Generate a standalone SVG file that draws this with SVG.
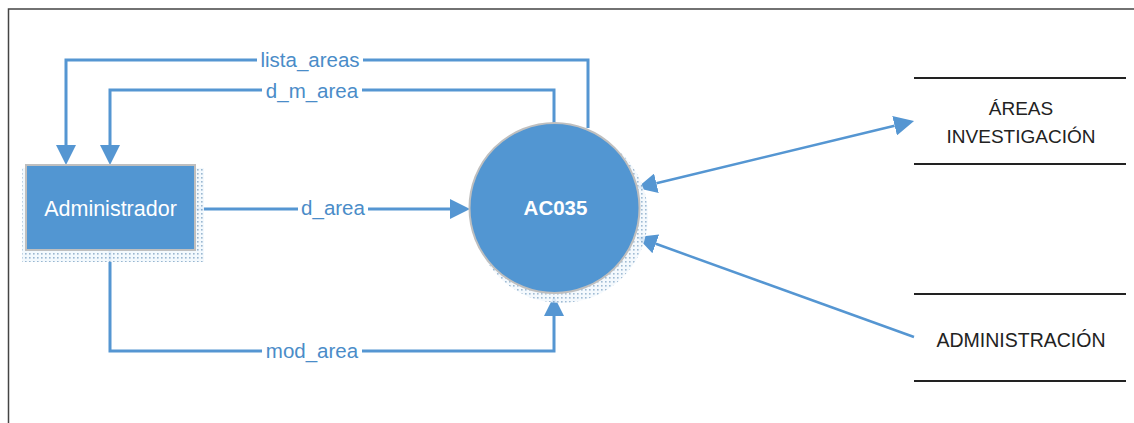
<svg xmlns="http://www.w3.org/2000/svg" width="1134" height="423" viewBox="0 0 1134 423">
<style>
.flow{fill:none;stroke:#5596D2;stroke-width:3}
.lbl{font-family:"Liberation Sans",Arial,sans-serif;font-size:20.5px;fill:#4A8CC8;text-anchor:middle}
.store{font-family:"Liberation Sans",Arial,sans-serif;font-size:19px;fill:#222;text-anchor:middle}
.sline{stroke:#222;stroke-width:2}
.lblbg{fill:#fff}
</style>
<defs>
<marker id="ah" viewBox="0 0 20 20" refX="0" refY="10" markerWidth="20" markerHeight="20" markerUnits="userSpaceOnUse" orient="auto">
<path d="M0,0 L20,10 L0,20 Z" fill="#5596D2"/>
</marker>
<marker id="ahs" viewBox="0 0 20 20" refX="20" refY="10" markerWidth="20" markerHeight="20" markerUnits="userSpaceOnUse" orient="auto">
<path d="M20,0 L0,10 L20,20 Z" fill="#5596D2"/>
</marker>
<pattern id="dots" width="4" height="4" patternUnits="userSpaceOnUse">
<rect width="4" height="4" fill="#F2F8FD"/>
<rect x="1" y="1" width="1.6" height="1.6" fill="#8FAFCC"/>
</pattern>
</defs>
<rect x="0" y="0" width="1134" height="423" fill="#fff"/>
<path d="M8.5,423 V9 H1134" fill="none" stroke="#444" stroke-width="1.5"/>

<g id="connectors">
<path class="flow" d="M588,128 V60 H66 V145" marker-end="url(#ah)"/>
<path class="flow" d="M554,123 V90 H110 V145" marker-end="url(#ah)"/>
<path class="flow" d="M196,209 H450" marker-end="url(#ah)"/>
<path class="flow" d="M110,251 V351 H554 V316" marker-end="url(#ah)"/>
<path class="flow" d="M656.4,183.3 L894.6,125.7" marker-start="url(#ahs)" marker-end="url(#ah)" style="stroke-width:2.5"/>
<path class="flow" d="M914,337 L655.8,243.8" marker-end="url(#ah)" style="stroke-width:2.5"/>
<rect class="lblbg" x="257" y="48" width="106" height="24"/>
<text class="lbl" x="310" y="67">lista_areas</text>
<rect class="lblbg" x="262" y="78" width="100" height="24"/>
<text class="lbl" x="312" y="98">d_m_area</text>
<rect class="lblbg" x="298" y="197" width="70" height="24"/>
<text class="lbl" x="333" y="215">d_area</text>
<rect class="lblbg" x="262" y="339" width="100" height="24"/>
<text class="lbl" x="312" y="358">mod_area</text>
</g>

<g id="administrador">
<path d="M22,168 H26 V250 H195 V168 H204 V262 H22 Z" fill="url(#dots)" opacity="0.9"/>
<rect x="26" y="165" width="169" height="85" fill="#5296D2" stroke="#BFBFBF" stroke-width="2"/>
<text x="110.5" y="216" font-family="'Liberation Sans',Arial,sans-serif" font-size="21.5" fill="#fff" text-anchor="middle">Administrador</text>
</g>

<g id="ac035">
<circle cx="561" cy="216" r="87" fill="url(#dots)" opacity="0.85"/>
<circle cx="554.5" cy="208" r="85" fill="#5296D2" stroke="#BFBFBF" stroke-width="2"/>
<text x="555.5" y="215" font-family="'Liberation Sans',Arial,sans-serif" font-size="20.5" font-weight="bold" fill="#fff" text-anchor="middle">AC035</text>
</g>

<g id="areas-investigacion">
<line class="sline" x1="914" y1="78" x2="1126" y2="78"/>
<line class="sline" x1="914" y1="164" x2="1126" y2="164"/>
<text class="store" x="1021" y="115">ÁREAS</text>
<text class="store" x="1021" y="143">INVESTIGACIÓN</text>
</g>

<g id="administracion">
<line class="sline" x1="914" y1="294" x2="1126" y2="294"/>
<line class="sline" x1="914" y1="381" x2="1126" y2="381"/>
<text class="store" x="1021" y="347" style="font-size:19.5px">ADMINISTRACIÓN</text>
</g>
</svg>
